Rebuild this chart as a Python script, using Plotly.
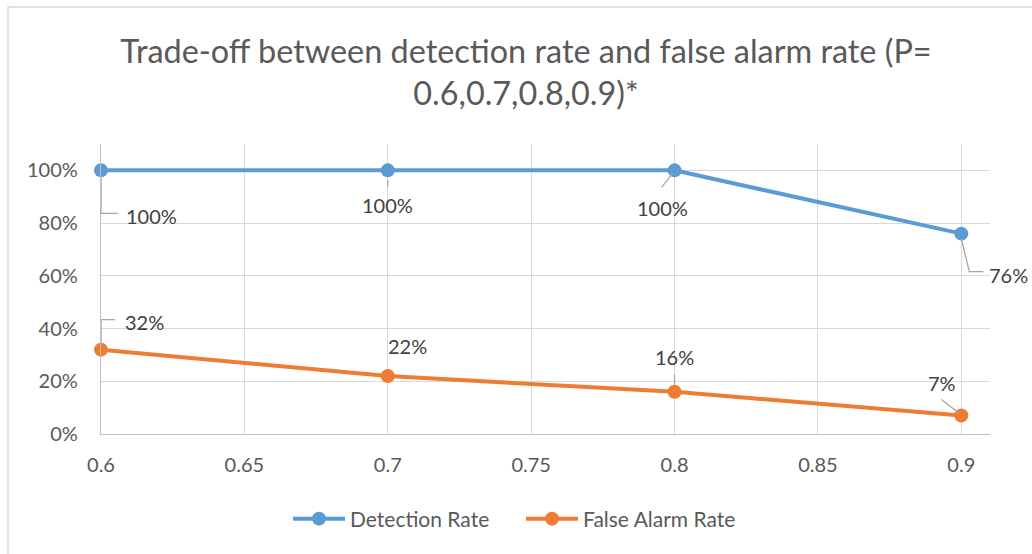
import plotly.graph_objects as go

# data
p_values = [0.6, 0.7, 0.8, 0.9]
detection_rate = [1.00, 1.00, 1.00, 0.76]
false_alarm_rate = [0.32, 0.22, 0.16, 0.07]
y_ticks = [0, 0.2, 0.4, 0.6, 0.8, 1.0]
x_ticks = [0.6, 0.65, 0.7, 0.75, 0.8, 0.85, 0.9]

BLUE = "#5b9bd5"
ORANGE = "#ed7d31"
TXT = "#595959"
LBL = "#404040"
GRID = "#d9d9d9"
FONT = "Lato"

W, H = 1032, 554
L, R, T, B = 101, 42, 144, 120

fig = go.Figure()
fig.add_trace(go.Scatter(
    x=p_values, y=detection_rate, name="Detection Rate", mode="lines+markers",
    line=dict(color=BLUE, width=4), marker=dict(size=14, color=BLUE),
    cliponaxis=False,
))
fig.add_trace(go.Scatter(
    x=p_values, y=false_alarm_rate, name="False Alarm Rate", mode="lines+markers",
    line=dict(color=ORANGE, width=4), marker=dict(size=14, color=ORANGE),
    cliponaxis=False,
))

# label placement (pixel offsets from the point; +y is up) and elbow leader lines
det_offsets = [(50, -46), (0, -35), (-12, -38), (47, -41)]
det_leaders = [
    [(0, -5), (0, -43), (17, -43)],
    [(0, -10), (0, -16)],
    [(-2, -3), (-13, -17)],
    [(0, -5), (8, -38), (22, -38)],
]
fa_offsets = [(43, 28), (20, 30), (0, 35), (-19, 33)]
fa_leaders = [
    [(0, 5), (0, 30), (14, 30)],
    [],
    [(0, 7), (0, 17)],
    [(-3, 3), (-20, 16)],
]

for xs, ys, offs, leads in [
    (p_values, detection_rate, det_offsets, det_leaders),
    (p_values, false_alarm_rate, fa_offsets, fa_leaders),
]:
    for xv, yv, (dx, dy), pts in zip(xs, ys, offs, leads):
        fig.add_annotation(
            x=xv, y=yv, xref="x", yref="y", text=f"{yv:.0%}", showarrow=False,
            xshift=dx, yshift=dy, font=dict(family=FONT, size=20, color=LBL),
        )
        if pts:
            path = "M" + " L".join(f"{px},{py}" for px, py in pts)
            fig.add_shape(
                type="path", path=path, xref="x", yref="y",
                xsizemode="pixel", ysizemode="pixel", xanchor=xv, yanchor=yv,
                line=dict(color="#a6a6a6", width=1.3), layer="above",
            )

# chart-area border (left and top edges visible)
pw, ph = W - L - R, H - T - B
fig.add_shape(
    type="rect", xref="paper", yref="paper",
    x0=(8 - L) / pw, x1=(W + 20 - L) / pw,
    y0=-(B + 20) / ph, y1=1 + (T - 7) / ph,
    line=dict(color=GRID, width=1.3), layer="below",
)

fig.update_layout(
    width=W, height=H,
    margin=dict(l=L, r=R, t=T, b=B),
    paper_bgcolor="white", plot_bgcolor="white",
    font=dict(family=FONT, color=TXT),
    title=dict(
        text="Trade-off between detection rate and false alarm rate (P=<br>0.6,0.7,0.8,0.9)*",
        x=526 / W, xref="container", xanchor="center",
        y=1 - 63 / H, yref="container", yanchor="middle",
        font=dict(family=FONT, size=32.4, color=TXT),
    ),
    showlegend=True,
    legend=dict(
        orientation="h", x=288 / W, xref="container", xanchor="left",
        y=1 - 519 / H, yref="container", yanchor="middle",
        font=dict(family=FONT, size=21, color=TXT),
        itemwidth=52, entrywidth=166, entrywidthmode="pixels",
    ),
    xaxis=dict(
        range=[0.6, 0.91], tickvals=x_ticks, ticktext=[f"{v:g}" for v in x_ticks],
        showgrid=True, gridcolor=GRID, gridwidth=1.3, zeroline=False,
        showline=True, linecolor="#bfbfbf", linewidth=1.3,
        ticks="outside", ticklen=13, tickcolor="rgba(0,0,0,0)",
        tickfont=dict(family=FONT, size=20, color=TXT),
    ),
    yaxis=dict(
        range=[0, 1.1], tickvals=y_ticks, tickformat=".0%",
        showgrid=True, gridcolor=GRID, gridwidth=1.3, zeroline=False,
        showline=True, linecolor="#bfbfbf", linewidth=1.3,
        ticks="outside", ticklen=18, tickcolor="rgba(0,0,0,0)",
        tickfont=dict(family=FONT, size=20, color=TXT),
    ),
)

fig.write_html(
    "out.html",
    config={"displayModeBar": False},
    post_script="document.body.style.margin='0';",
)
